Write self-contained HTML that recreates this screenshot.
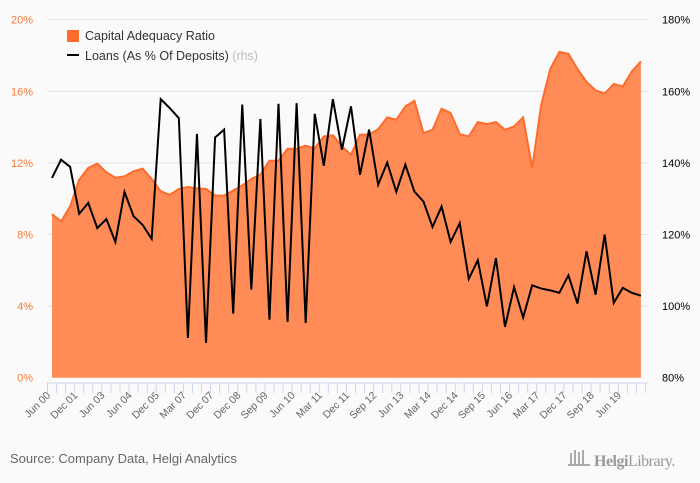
<!DOCTYPE html>
<html><head><meta charset="utf-8"><style>
html,body{margin:0;padding:0;background:#fafafa;}
svg{display:block;font-family:"Liberation Sans",sans-serif;}
</style></head><body>
<svg id="c" width="700" height="483" viewBox="0 0 700 483">
<rect x="0" y="0" width="700" height="483" fill="#fafafa"/>
<g id="grid"></g><g id="area"></g><g id="line"></g><g id="axes"></g>
<g>
<rect x="67" y="30" width="12" height="12" fill="#ff6b2b"/>
<text x="85" y="40" font-size="12.5" fill="#333">Capital Adequacy Ratio</text>
<rect x="67" y="54" width="12" height="2" fill="#000"/>
<text x="85" y="60" font-size="12.5" fill="#333">Loans (As % Of Deposits) <tspan fill="#bbb">(rhs)</tspan></text>
</g>
<text x="10" y="463" font-size="13" fill="#666">Source: Company Data, Helgi Analytics</text>
<g>
<rect x="570" y="453" width="2" height="12" fill="#aaa"/><rect x="574" y="450" width="2" height="15" fill="#aaa"/><rect x="578" y="452" width="2" height="13" fill="#aaa"/><rect x="582" y="450" width="2" height="15" fill="#aaa"/><rect x="568" y="464" width="22" height="2" fill="#aaa"/>
<text x="594" y="466" font-size="16" fill="#999" font-family="Liberation Serif,serif" letter-spacing="-0.5"><tspan font-weight="bold">Helgi</tspan>Library.</text>
</g>
</svg>
<script>
const categories=["Jun 00","Dec 01","Jun 03","Jun 04","Dec 05","Mar 07","Dec 07","Dec 08","Sep 09","Jun 10","Mar 11","Dec 11","Sep 12","Jun 13","Mar 14","Dec 14","Sep 15","Jun 16","Mar 17","Dec 17","Sep 18","Jun 19"];
const carValues=[9.14,8.73,9.57,11.06,11.72,11.96,11.47,11.17,11.25,11.53,11.68,11.11,10.41,10.22,10.54,10.65,10.58,10.54,10.18,10.17,10.46,10.74,11.1,11.34,12.12,12.12,12.79,12.79,12.96,12.81,13.48,13.54,12.92,12.46,13.58,13.58,13.89,14.54,14.41,15.16,15.47,13.67,13.85,15.03,14.79,13.61,13.48,14.28,14.17,14.28,13.85,14.04,14.54,11.72,15.25,17.25,18.2,18.1,17.25,16.52,16.05,15.87,16.41,16.27,17.11,17.67];
const loanValues=[135.8,140.9,138.9,125.8,128.8,121.8,124.3,117.9,131.9,125.1,122.7,118.8,157.8,155.3,152.5,91.1,148.1,89.7,147.1,149.3,97.9,156.3,104.6,152.3,96.2,156.5,95.6,156.7,95.3,153.7,139.2,157.8,143.7,155.8,136.7,149.3,133.9,140.1,131.9,139.5,132.0,129.2,122.1,127.8,117.9,123.2,107.6,112.8,99.9,113.4,94.2,105.3,96.8,105.8,104.9,104.4,103.7,108.6,100.7,115.3,103.2,120,100.9,105.1,103.7,102.9];
const leftTicks=["0%","4%","8%","12%","16%","20%"];
const rightTicks=["80%","100%","120%","140%","160%","180%"];
const leftVals=[0,4,8,12,16,20], rightVals=[80,100,120,140,160,180];
const NS="http://www.w3.org/2000/svg";
const X0=52,STEP=9.06,Y0=377.7,Y1=19.7;
const xs=i=>X0+i*STEP;
const yl=v=>Y0-(v/20)*(Y0-Y1);
const yr=v=>Y0-((v-80)/100)*(Y0-Y1);
function mk(tag,attrs,parent){const e=document.createElementNS(NS,tag);for(const k in attrs)e.setAttribute(k,attrs[k]);document.getElementById(parent).appendChild(e);return e;}
leftVals.forEach((v,i)=>{
 if(v>0){const g=mk('line',{x1:47,x2:648,y1:yl(v),y2:yl(v),stroke:'#e2e2e2','stroke-width':1},'grid');
 
 }
 const t=mk('text',{x:33,y:yl(v)+4,'font-size':11,fill:'#f47a3c','text-anchor':'end'},'axes');t.textContent=leftTicks[i];
 
 
 const r=mk('text',{x:662,y:yr(rightVals[i])+4,'font-size':11,fill:'#000'},'axes');r.textContent=rightTicks[i];
 
 
});
let d='M'+xs(0)+','+Y0;carValues.forEach((v,i)=>d+=' L'+xs(i)+','+yl(v));d+=' L'+xs(carValues.length-1)+','+Y0+' Z';
const a=mk('path',{d:d,fill:'#ff8c57'},'area');


let d2='';carValues.forEach((v,i)=>d2+=(i?' L':'M')+xs(i)+','+yl(v));
const al=mk('path',{d:d2,fill:'none',stroke:'#ff6b2b','stroke-width':2},'area');


let d3='';loanValues.forEach((v,i)=>d3+=(i?' L':'M')+xs(i)+','+yr(v));
const ll=mk('path',{d:d3,fill:'none',stroke:'#000','stroke-width':2,'stroke-linejoin':'miter'},'line');


const ax=mk('line',{x1:47,x2:648,y1:383,y2:383,stroke:'#ccd6eb'},'axes');


for(let i=0;i<=carValues.length;i++){const t=mk('line',{x1:47.5+i*STEP,x2:47.5+i*STEP,y1:383,y2:393,stroke:'#ccd6eb'},'axes');
 
 }
categories.forEach((c,i)=>{const x=51+i*3*STEP,y=396;
 const t=mk('text',{x:x,y:y,'font-size':10.5,fill:'#666','text-anchor':'end',transform:'rotate(-45 '+x+' '+y+')'},'axes');t.textContent=c;
 
 });
</script>
</body></html>
